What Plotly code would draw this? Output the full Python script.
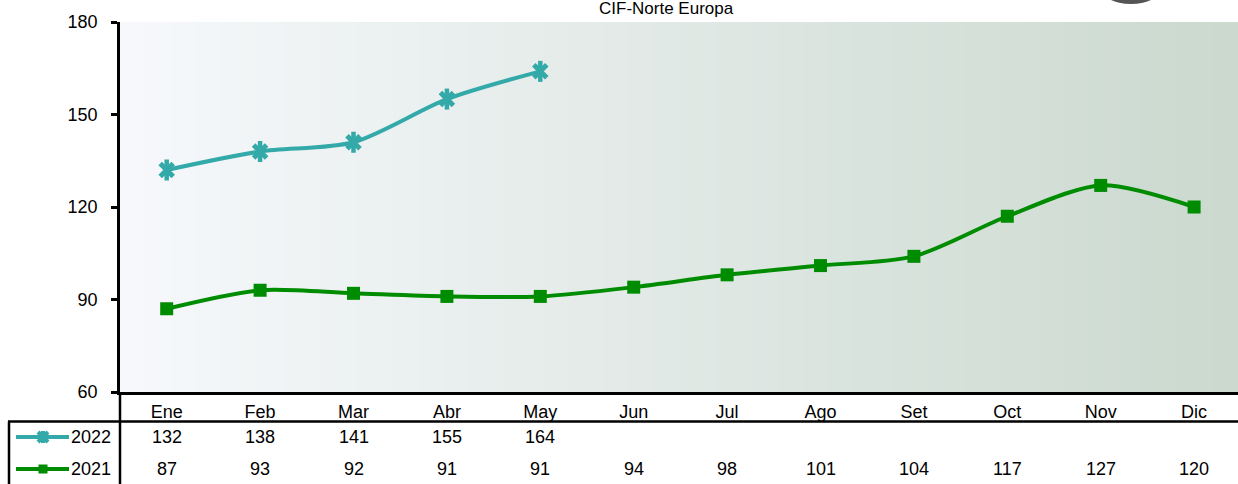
import plotly.graph_objects as go

months = ["Ene", "Feb", "Mar", "Abr", "May", "Jun", "Jul", "Ago", "Set", "Oct", "Nov", "Dic"]
v2022 = [132, 138, 141, 155, 164]
v2021 = [87, 93, 92, 91, 91, 94, 98, 101, 104, 117, 127, 120]
yticks = [60, 90, 120, 150, 180]

C22 = "#33a9a9"
C21 = "#008c00"
FONT = "Liberation Sans Narrow, Arial Narrow, Liberation Sans, Arial"

W, H = 1238, 484
L, T, B = 120, 22, 92
PW, PH = W - L, H - T - B

def px(x):
    return (x - L) / PW

def py(y):
    return (H - B - y) / PH

xi22 = list(range(len(v2022)))
xi21 = list(range(len(v2021)))

fig = go.Figure()
fig.add_trace(go.Scatter(x=xi21, y=v2021, mode="lines+markers", line=dict(color=C21, width=4, shape="spline", smoothing=0.8),
                         marker=dict(symbol="square", size=13, color=C21), showlegend=False, hoverinfo="skip"))
fig.add_trace(go.Scatter(x=xi22, y=v2022, mode="lines+markers", line=dict(color=C22, width=4, shape="spline", smoothing=0.8),
                         marker=dict(symbol="x-thin-open", size=13, color=C22, line=dict(color=C22, width=5)), showlegend=False, hoverinfo="skip"))
fig.add_trace(go.Scatter(x=xi22, y=v2022, mode="markers",
                         marker=dict(symbol="line-ns-open", size=15, color=C22, line=dict(color=C22, width=4.5)), showlegend=False, hoverinfo="skip"))

shapes = []
# gradient background
N = 90
c0 = (246, 248, 251)
c1 = (203, 217, 207)
for i in range(N):
    t = i / (N - 1)
    col = tuple(round(c0[k] + (c1[k] - c0[k]) * t) for k in range(3))
    shapes.append(dict(type="rect", xref="paper", yref="paper", x0=i / N, x1=(i + 1) / N + 0.002, y0=0, y1=1,
                       fillcolor="rgb(%d,%d,%d)" % col, line=dict(width=0), layer="below"))
# table lines
shapes.append(dict(type="line", xref="paper", yref="paper", x0=px(8), x1=1.0, y0=py(421.5), y1=py(421.5), line=dict(color="black", width=2.5)))
shapes.append(dict(type="line", xref="paper", yref="paper", x0=px(9), x1=px(9), y0=py(421.5), y1=py(490), line=dict(color="black", width=2.5)))
shapes.append(dict(type="line", xref="paper", yref="paper", x0=0, x1=0, y0=0, y1=py(490), line=dict(color="black", width=2.5)))
# legend icons
ry22, ry21 = 437, 469
shapes.append(dict(type="line", xref="paper", yref="paper", x0=px(16), x1=px(69), y0=py(ry22), y1=py(ry22), line=dict(color=C22, width=4)))
shapes.append(dict(type="line", xref="paper", yref="paper", x0=px(16), x1=px(69), y0=py(ry21), y1=py(ry21), line=dict(color=C21, width=4)))
mx = 43
s = 5
shapes.append(dict(type="line", xref="paper", yref="paper", x0=px(mx - s), x1=px(mx + s), y0=py(ry22 - s), y1=py(ry22 + s), line=dict(color=C22, width=4)))
shapes.append(dict(type="line", xref="paper", yref="paper", x0=px(mx - s), x1=px(mx + s), y0=py(ry22 + s), y1=py(ry22 - s), line=dict(color=C22, width=4)))
shapes.append(dict(type="line", xref="paper", yref="paper", x0=px(mx), x1=px(mx), y0=py(ry22 - s - 1), y1=py(ry22 + s + 1), line=dict(color=C22, width=4)))
shapes.append(dict(type="rect", xref="paper", yref="paper", x0=px(mx - 4.5), x1=px(mx + 4.5), y0=py(ry21 - 4.5), y1=py(ry21 + 4.5),
                   fillcolor=C21, line=dict(width=0)))
# logo remnant top right
shapes.append(dict(type="circle", xref="paper", yref="paper", x0=px(1100), x1=px(1162), y0=py(4), y1=py(-30),
                   fillcolor="#555555", line=dict(width=0)))

annotations = []
tf = dict(family=FONT, size=18, color="black")
for i, v in enumerate(v2022):
    annotations.append(dict(x=i, y=py(ry22), xref="x", yref="paper", text=str(v), showarrow=False, font=tf, xanchor="center", yanchor="middle"))
for i, v in enumerate(v2021):
    annotations.append(dict(x=i, y=py(ry21), xref="x", yref="paper", text=str(v), showarrow=False, font=tf, xanchor="center", yanchor="middle"))
annotations.append(dict(x=px(113), y=py(ry22), xref="paper", yref="paper", text="2022", showarrow=False, font=tf, xanchor="right", yanchor="middle"))
annotations.append(dict(x=px(113), y=py(ry21), xref="paper", yref="paper", text="2021", showarrow=False, font=tf, xanchor="right", yanchor="middle"))
annotations.append(dict(x=px(666), y=py(20), xref="paper", yref="paper", text="CIF-Norte Europa", showarrow=False,
                        font=dict(family=FONT, size=17, color="black"), xanchor="center", yanchor="bottom"))

fig.update_layout(
    width=W, height=H,
    margin=dict(l=L, r=0, t=T, b=B, autoexpand=False),
    paper_bgcolor="white", plot_bgcolor="rgba(0,0,0,0)",
    shapes=shapes, annotations=annotations,
    font=dict(family=FONT, size=18, color="black"),
    xaxis=dict(range=[-0.5, 11.47], tickvals=list(range(len(months))), ticktext=months, showgrid=False, zeroline=False,
               showline=True, linecolor="black", linewidth=2.5, ticks="", ticklabelstandoff=2, fixedrange=True, automargin=False),
    yaxis=dict(range=[60, 180], tickvals=yticks, showgrid=False, zeroline=False, showline=True, linecolor="black",
               linewidth=2.5, ticks="outside", ticklen=6, tickwidth=2.5, tickcolor="black", ticklabelstandoff=10,
               fixedrange=True, automargin=False),
)

fig.write_html("out.html", config={"displayModeBar": False},
               post_script="document.body.style.margin='0';document.body.style.overflow='hidden';")
